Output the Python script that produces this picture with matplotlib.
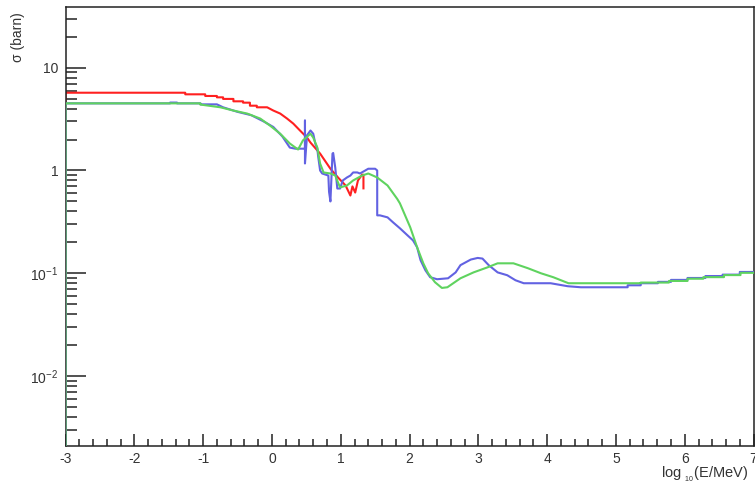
import matplotlib
matplotlib.use("Agg")
import matplotlib.pyplot as plt
from matplotlib.ticker import FixedLocator, FixedFormatter, LogLocator, MultipleLocator, NullFormatter

# cross sections vs log10(E/MeV); repeated x values give the histogram steps
red_logE = [-3.0, -3.0, -1.26, -1.26, -0.97, -0.97, -0.80, -0.80, -0.71, -0.71,
            -0.56, -0.56, -0.42, -0.42, -0.32, -0.32, -0.22, -0.22, -0.07, 0.02,
            0.12, 0.22, 0.31, 0.41, 0.51, 0.56, 0.70, 0.85, 0.96, 1.07,
            1.14, 1.17, 1.21, 1.25, 1.31, 1.33, 1.33]
red_sigma = [0.001, 5.71, 5.71, 5.51, 5.51, 5.31, 5.31, 5.15, 5.15, 4.97,
             4.97, 4.71, 4.71, 4.57, 4.57, 4.27, 4.27, 4.12, 4.12, 3.83,
             3.58, 3.20, 2.86, 2.44, 2.09, 1.87, 1.46, 1.04, 0.855, 0.715,
             0.571, 0.70, 0.61, 0.80, 0.91, 0.91, 0.67]

blue_logE = [-3.0, -3.0, -1.48, -1.48, -1.38, -1.38, -1.04, -1.04, -0.80, -0.71,
             -0.50, -0.30, -0.12, 0.02, 0.15, 0.26, 0.34, 0.48, 0.48, 0.48,
             0.51, 0.56, 0.60, 0.63, 0.66, 0.67, 0.70, 0.73, 0.82, 0.83,
             0.85, 0.88, 0.89, 0.92, 0.95, 0.99, 1.03, 1.09, 1.14, 1.18,
             1.24, 1.28, 1.40, 1.50, 1.53, 1.53, 1.57, 1.68, 1.76, 1.86,
             1.97, 2.05, 2.11, 2.16, 2.23, 2.30, 2.40, 2.56, 2.67, 2.74,
             2.89, 2.99, 3.06, 3.15, 3.28, 3.42, 3.54, 3.66, 4.05, 4.30,
             4.49, 5.17, 5.17, 5.36, 5.36, 5.61, 5.61, 5.80, 5.80, 6.04,
             6.04, 6.30, 6.30, 6.55, 6.55, 6.80, 6.80, 7.0]
blue_sigma = [0.001, 4.50, 4.50, 4.58, 4.58, 4.50, 4.50, 4.40, 4.40, 4.12,
              3.72, 3.45, 3.00, 2.65, 2.15, 1.67, 1.63, 1.63, 3.06, 1.17,
              2.20, 2.45, 2.28, 1.83, 1.62, 1.40, 1.00, 0.935, 0.893, 0.62,
              0.50, 1.46, 1.48, 1.07, 0.668, 0.668, 0.80, 0.855, 0.893, 0.957,
              0.957, 0.935, 1.04, 1.04, 1.00, 0.366, 0.366, 0.35, 0.313, 0.274,
              0.234, 0.209, 0.179, 0.134, 0.107, 0.0915, 0.0875, 0.0894, 0.102, 0.120,
              0.136, 0.141, 0.139, 0.120, 0.102, 0.0957, 0.0855, 0.080, 0.080, 0.0748,
              0.0731, 0.0731, 0.0764, 0.0764, 0.080, 0.080, 0.0825, 0.0825, 0.0862, 0.0862,
              0.090, 0.090, 0.094, 0.094, 0.097, 0.097, 0.103, 0.103]

green_logE = [-3.0, -3.0, -1.04, -1.04, -0.75, -0.56, -0.36, -0.17, -0.03, 0.12,
              0.26, 0.38, 0.45, 0.56, 0.60, 0.66, 0.70, 0.75, 0.85, 0.92,
              0.99, 1.09, 1.18, 1.31, 1.40, 1.53, 1.68, 1.82, 1.86, 2.01,
              2.11, 2.20, 2.27, 2.37, 2.47, 2.55, 2.74, 2.93, 3.13, 3.28,
              3.51, 3.72, 3.91, 4.09, 4.31, 5.36, 5.36, 5.77, 5.77, 6.04,
              6.04, 6.27, 6.27, 6.57, 6.57, 6.81, 6.81, 7.0]
green_sigma = [0.001, 4.50, 4.50, 4.38, 4.12, 3.83, 3.58, 3.20, 2.74, 2.28,
               1.83, 1.60, 1.96, 2.28, 2.09, 1.67, 1.17, 0.957, 0.935, 0.893,
               0.684, 0.715, 0.80, 0.893, 0.935, 0.855, 0.715, 0.53, 0.479, 0.28,
               0.179, 0.125, 0.100, 0.0818, 0.072, 0.0731, 0.0894, 0.102, 0.114, 0.125,
               0.125, 0.112, 0.100, 0.0915, 0.080, 0.080, 0.0812, 0.0812, 0.0842, 0.0842,
               0.0885, 0.0885, 0.0917, 0.0917, 0.096, 0.096, 0.101, 0.101]

y_ticks = [0.01, 0.1, 1, 10]
y_tick_labels = [r"10$^{-2}$", r"10$^{-1}$", "1", "10"]

plt.rcParams["font.family"] = ["Liberation Sans", "DejaVu Sans"]
plt.rcParams["mathtext.fontset"] = "custom"
plt.rcParams["mathtext.rm"] = "Liberation Sans"
plt.rcParams["mathtext.it"] = "Liberation Sans:italic"
plt.rcParams["axes.unicode_minus"] = False

fig = plt.figure(figsize=(7.55, 4.87), dpi=100)
ax = fig.add_axes([0.0868, 0.0852, 0.9113, 0.8998])

ax.plot(red_logE, red_sigma, color="#ff2020", linewidth=1.5, zorder=2)
ax.plot(blue_logE, blue_sigma, color="#6262e2", linewidth=1.5, zorder=3)
ax.plot(green_logE, green_sigma, color="#5fd35f", linewidth=1.5, zorder=4)

ax.set_yscale("log")
ax.set_xlim(-3, 7)
ax.set_ylim(0.00211, 38.7)

ax.xaxis.set_major_locator(MultipleLocator(1))
ax.xaxis.set_minor_locator(MultipleLocator(0.2))
ax.yaxis.set_major_locator(FixedLocator(y_ticks))
ax.yaxis.set_major_formatter(FixedFormatter(y_tick_labels))
ax.yaxis.set_minor_locator(LogLocator(base=10, subs=[2, 3, 4, 5, 6, 7, 8, 9]))
ax.yaxis.set_minor_formatter(NullFormatter())

ax.tick_params(which="both", direction="in", top=False, right=False,
               color="#222222", width=1.1, labelsize=10, labelcolor="#333333")
ax.tick_params(axis="x", which="major", length=8.6, pad=5)
ax.tick_params(axis="x", which="minor", length=5)
ax.tick_params(axis="y", which="major", length=14.4, pad=5)
ax.tick_params(axis="y", which="minor", length=8)

for sp in ax.spines.values():
    sp.set_linewidth(1.1)
    sp.set_color("#222222")

fig.text(18 / 755, 1 - 12 / 487, "σ (barn)", rotation=90, ha="center", va="top",
         fontsize=10, color="#333333")
fig.text(748 / 755, 1 - 465 / 487, r"log $_{_{10}}$(E/MeV)", ha="right", va="top",
         fontsize=10.5, color="#333333")

fig.savefig("out.png", dpi=100)
